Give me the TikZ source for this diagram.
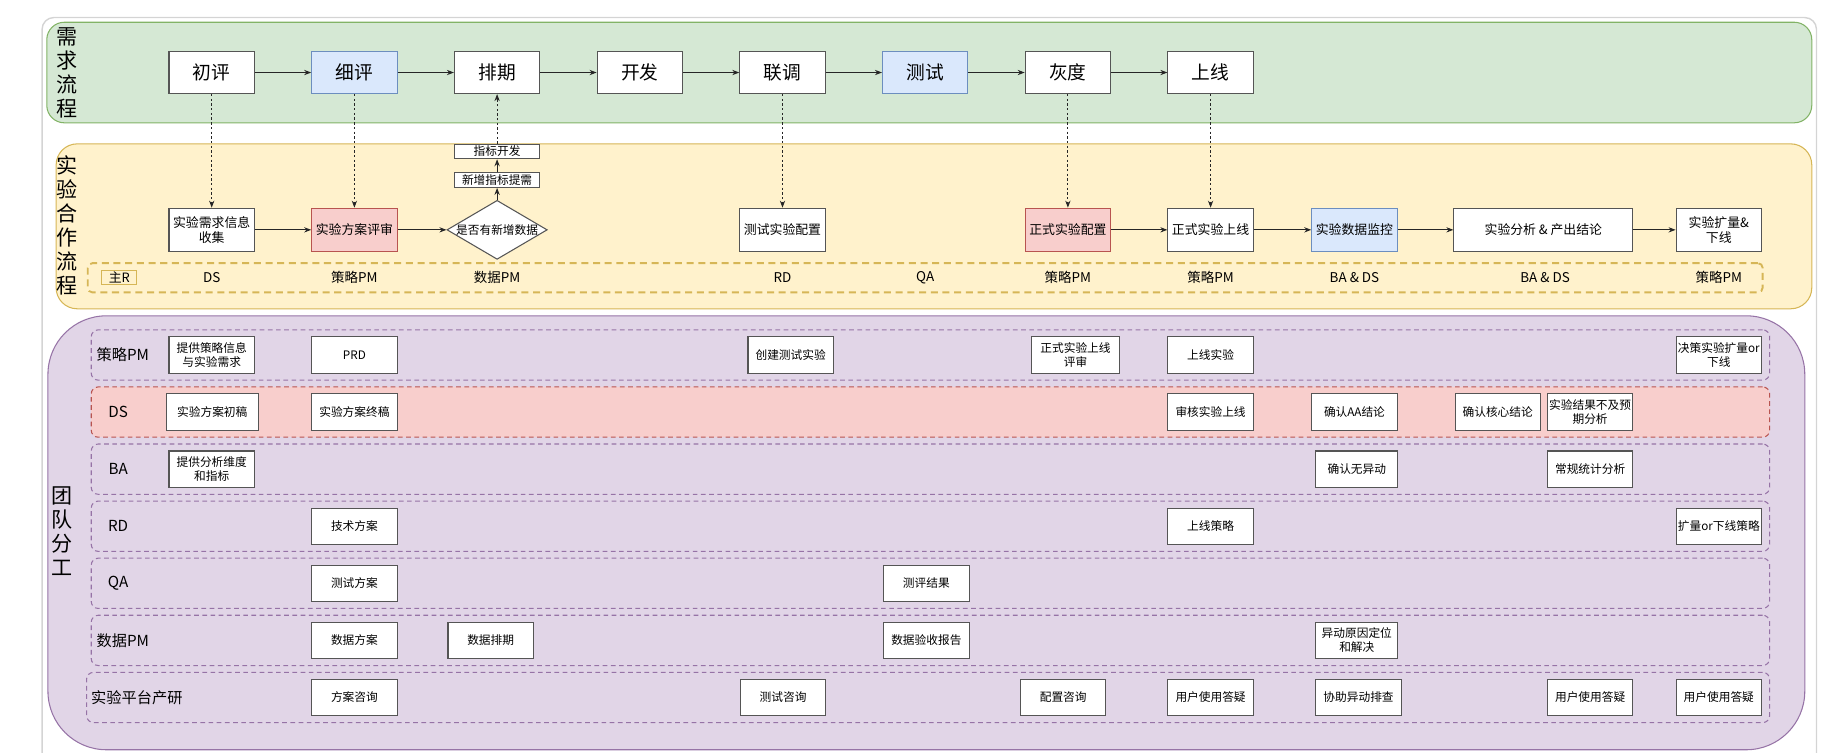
\documentclass[tikz,border=0pt]{standalone}
\usepackage{fontspec}
\setmainfont{Noto Sans CJK SC}
\usepackage{tikz}
\usetikzlibrary{positioning}
\usetikzlibrary{shapes.geometric}
\usetikzlibrary{arrows.meta}

\definecolor{framegray}{HTML}{D4D4D4}
\definecolor{greenfill}{HTML}{D5E8D4}
\definecolor{greenline}{HTML}{82B366}
\definecolor{yellowfill}{HTML}{FFF2CC}
\definecolor{yellowline}{HTML}{D6B656}
\definecolor{purplefill}{HTML}{E1D5E7}
\definecolor{purpleline}{HTML}{9673A6}
\definecolor{redfill}{HTML}{F8CECC}
\definecolor{redline}{HTML}{B85450}
\definecolor{bluefill}{HTML}{DAE8FC}
\definecolor{blueline}{HTML}{6C8EBF}
\definecolor{boxline}{HTML}{555555}

\begin{document}
\begin{tikzpicture}[x=1pt, y=-1pt,
  stage/.style={draw=boxline, fill=white, line width=0.9pt, minimum width=73, minimum height=36,
    inner sep=1pt, font=\fontsize{16}{18}\selectfont},
  flowbox/.style={draw=boxline, fill=white, line width=0.9pt, minimum width=73, minimum height=37,
    inner sep=1pt, align=center, font=\fontsize{11}{13}\selectfont},
  taskbox/.style={draw=boxline, fill=white, line width=0.9pt, minimum width=73, minimum height=31,
    inner sep=1pt, align=center, font=\fontsize{10}{12}\selectfont},
  tinybox/.style={draw=boxline, fill=white, line width=0.8pt, minimum width=73, minimum height=12.5,
    inner sep=0pt, font=\fontsize{10}{11}\selectfont},
  redbox/.style={fill=redfill, draw=redline},
  bluebox/.style={fill=bluefill, draw=blueline},
  lane/.style={draw=purpleline, dash pattern=on 4pt off 3pt, line width=0.9pt, rounded corners=6,
    minimum width=1435, minimum height=43, inner sep=0pt},
  lanelabel/.style={font=\fontsize{13}{15}\selectfont},
  rolelabel/.style={font=\fontsize{11.5}{13}\selectfont},
  bandlabel/.style={align=center, font=\fontsize{18}{20.5}\selectfont},
  flow/.style={-{Stealth[length=6pt,width=4.5pt]}, line width=0.8pt, draw=black!85},
  hint/.style={flow, dash pattern=on 2pt off 2pt},
]
  \useasboundingbox (0,0) rectangle (1568,643);
  \clip (0,0) rectangle (1568,643);

  \draw [draw=framegray, line width=1.2pt, rounded corners=10] (36,700) -- (36,15) -- (1553,15) -- (1553,700);
  \draw [fill=greenfill, draw=greenline, line width=0.9pt, rounded corners=15] (40,19) rectangle (1549,105);
  \draw [fill=yellowfill, draw=yellowline, line width=0.9pt, rounded corners=18] (48,123) rectangle (1549,264);
  \draw [fill=purplefill, draw=purpleline, line width=0.9pt, rounded corners=50] (41,270) rectangle (1543,641);

  \node [bandlabel] (xuqiu) at (57,62) {需\\求\\流\\程};
  \node [bandlabel] (hezuo) at (57,193) {实\\验\\合\\作\\流\\程};
  \node [bandlabel] (fengong) at (53,454) {团\\队\\分\\工};

  \node [stage] (chuping) at (181,62) {初评};
  \node [stage, bluebox] (xiping) at (303,62) {细评};
  \node [stage] (paiqi) at (425,62) {排期};
  \node [stage] (kaifa) at (547,62) {开发};
  \node [stage] (liantiao) at (669,62) {联调};
  \node [stage, bluebox] (ceshi) at (791,62) {测试};
  \node [stage] (huidu) at (913,62) {灰度};
  \node [stage] (shangxian) at (1035,62) {上线};

  \draw [flow] (chuping) -- (xiping);
  \draw [flow] (xiping) -- (paiqi);
  \draw [flow] (paiqi) -- (kaifa);
  \draw [flow] (kaifa) -- (liantiao);
  \draw [flow] (liantiao) -- (ceshi);
  \draw [flow] (ceshi) -- (huidu);
  \draw [flow] (huidu) -- (shangxian);

  \node [flowbox] (shouji) at (181,196.5) {实验需求信息\\收集};
  \node [flowbox, redbox] (pingshen) at (303,196.5) {实验方案评审};
  \node [diamond, draw=boxline, fill=white, line width=0.9pt, shape aspect=1.7, inner sep=0pt,
    font=\fontsize{10}{11}\selectfont] (xinshuju) at (425,196.5) {是否有新增数据};
  \node [tinybox] (tixu) at (425,154) {新增指标提需};
  \node [tinybox] (zhibiao) at (425,129.5) {指标开发};
  \node [flowbox] (cspz) at (669,196.5) {测试实验配置};
  \node [flowbox, redbox] (zspz) at (913,196.5) {正式实验配置};
  \node [flowbox] (zssx) at (1035,196.5) {正式实验上线};
  \node [flowbox, bluebox] (jiankong) at (1158,196.5) {实验数据监控};
  \node [flowbox, minimum width=153] (jielun) at (1319.5,196.5) {实验分析 \& 产出结论};
  \node [flowbox] (kuoliang) at (1469.5,196.5) {实验扩量\&\\下线};

  \draw [hint] (chuping) -- (shouji);
  \draw [hint] (xiping) -- (pingshen);
  \draw [hint] (liantiao) -- (cspz);
  \draw [hint] (huidu) -- (zspz);
  \draw [hint] (shangxian) -- (zssx);
  \draw [hint] (zhibiao) -- (paiqi);
  \draw [flow] (xinshuju) -- (tixu);
  \draw [flow] (tixu) -- (zhibiao);
  \draw [flow] (shouji) -- (pingshen);
  \draw [flow] (pingshen) -- (xinshuju);
  \draw [flow] (zspz) -- (zssx);
  \draw [flow] (zssx) -- (jiankong);
  \draw [flow] (jiankong) -- (jielun);
  \draw [flow] (jielun) -- (kuoliang);

  \node [draw=yellowline, dash pattern=on 6pt off 4pt, line width=1.6pt, rounded corners=4,
    minimum width=1432, minimum height=25, inner sep=0pt] (zhuR) at (791,237.5) {};
  \node [draw=yellowline, line width=0.7pt, minimum width=30, minimum height=12, inner sep=0pt,
    font=\fontsize{11}{12}\selectfont] (zhuRtag) at (102,237) {主R};
  \node [rolelabel] (rds) at (181,237.5) {DS};
  \node [rolelabel] (rpm) at (303,237.5) {策略PM};
  \node [rolelabel] (rdpm) at (425,237.5) {数据PM};
  \node [rolelabel] (rrd) at (669,237.5) {RD};
  \node [rolelabel] (rqa) at (791,237.5) {QA};
  \node [rolelabel] (rpm2) at (913,237.5) {策略PM};
  \node [rolelabel] (rpm3) at (1035,237.5) {策略PM};
  \node [rolelabel] (rbads) at (1158,237.5) {BA \& DS};
  \node [rolelabel] (rbads2) at (1321,237.5) {BA \& DS};
  \node [rolelabel] (rpm4) at (1469.5,237.5) {策略PM};

  \node [lane] (lanepm) at (795.5,303.5) {};
  \node [lane, fill=redfill, draw=redline] (laneds) at (795.5,352.3) {};
  \node [lane] (laneba) at (795.5,401.1) {};
  \node [lane] (lanerd) at (795.5,449.9) {};
  \node [lane] (laneqa) at (795.5,498.7) {};
  \node [lane] (lanedpm) at (795.5,547.5) {};
  \node [lane, minimum width=1439] (laneplat) at (793.5,596.3) {};

  \node [lanelabel] (lpm) at (105,303.5) {策略PM};
  \node [lanelabel] (lds) at (101,352.3) {DS};
  \node [lanelabel] (lba) at (101,401.1) {BA};
  \node [lanelabel] (lrd) at (101,449.9) {RD};
  \node [lanelabel] (lqa) at (101,498.7) {QA};
  \node [lanelabel] (ldpm) at (105,547.5) {数据PM};
  \node [lanelabel] (lplat) at (117,596.3) {实验平台产研};

  \node [taskbox] (pm1) at (181,303.5) {提供策略信息\\与实验需求};
  \node [taskbox] (pm2) at (303,303.5) {PRD};
  \node [taskbox] (pm3) at (676,303.5) {创建测试实验};
  \node [taskbox, minimum width=75] (pm4) at (919.5,303.5) {正式实验上线\\评审};
  \node [taskbox] (pm5) at (1035,303.5) {上线实验};
  \node [taskbox] (pm6) at (1469.5,303.5) {决策实验扩量or\\下线};

  \node [taskbox, minimum width=79] (ds1) at (181.5,352.3) {实验方案初稿};
  \node [taskbox] (ds2) at (303,352.3) {实验方案终稿};
  \node [taskbox] (ds3) at (1035,352.3) {审核实验上线};
  \node [taskbox] (ds4) at (1158,352.3) {确认AA结论};
  \node [taskbox] (ds5) at (1280.5,352.3) {确认核心结论};
  \node [taskbox] (ds6) at (1359.5,352.3) {实验结果不及预\\期分析};

  \node [taskbox] (ba1) at (181,401.1) {提供分析维度\\和指标};
  \node [taskbox, minimum width=70] (ba2) at (1160,401.1) {确认无异动};
  \node [taskbox] (ba3) at (1359.5,401.1) {常规统计分析};

  \node [taskbox] (rd1) at (303,449.9) {技术方案};
  \node [taskbox] (rd2) at (1035,449.9) {上线策略};
  \node [taskbox] (rd3) at (1469.5,449.9) {扩量or下线策略};

  \node [taskbox] (qa1) at (303,498.7) {测试方案};
  \node [taskbox] (qa2) at (792,498.7) {测评结果};

  \node [taskbox] (dpm1) at (303,547.5) {数据方案};
  \node [taskbox] (dpm2) at (419.5,547.5) {数据排期};
  \node [taskbox] (dpm3) at (792,547.5) {数据验收报告};
  \node [taskbox, minimum width=70] (dpm4) at (1160,547.5) {异动原因定位\\和解决};

  \node [taskbox] (plat1) at (303,596.3) {方案咨询};
  \node [taskbox] (plat2) at (669.5,596.3) {测试咨询};
  \node [taskbox] (plat3) at (909,596.3) {配置咨询};
  \node [taskbox] (plat4) at (1035,596.3) {用户使用答疑};
  \node [taskbox] (plat5) at (1161.5,596.3) {协助异动排查};
  \node [taskbox] (plat6) at (1359.5,596.3) {用户使用答疑};
  \node [taskbox] (plat7) at (1469.5,596.3) {用户使用答疑};
\end{tikzpicture}
\end{document}
